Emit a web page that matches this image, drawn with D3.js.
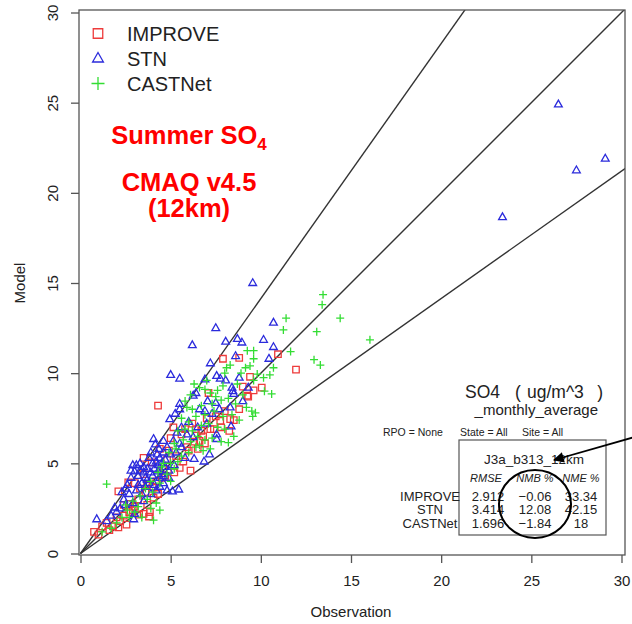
<!DOCTYPE html>
<html>
<head>
<meta charset="utf-8">
<script src="https://cdn.jsdelivr.net/npm/d3@7"></script>
<style>
  html, body { margin: 0; padding: 0; background: #fff; }
  svg text { font-family: "Liberation Sans", Arial, Helvetica, sans-serif; }
</style>
</head>
<body>
<svg id="chart" width="632" height="624"></svg>
<script>
// Observation vs model, summer SO4 monthly averages, by monitoring network
const improvePoints = [
  [4.3,8.2],[7.9,10.8],[8.8,10.85],[11.95,10.2],[10.95,11.05],[10.05,9.2],[9.4,9.8],[9.0,9.25],
  [9.6,9.05],[9.25,8.75],[9.3,8.7],[8.8,8.0],[7.1,8.9],[8.3,7.45],[8.25,6.8],[7.75,7.35],[6.2,7.2],
  [6.9,6.1],[6.6,6.25],[6.0,5.7],[6.1,4.6],[5.5,4.75],[5.15,7.0],[4.4,5.8],[3.95,5.05],[3.5,5.3],
  [4.7,4.3],[3.5,4.4],[2.65,3.95],[2.1,3.45],[2.75,2.75],[3.7,2.7],[3.5,2.2],[3.8,2.05],[3.25,2.15],
  [3.85,2.3],[2.1,1.45],[0.75,1.2],[1.45,1.7],[2.55,1.6],[4.05,3.1],[5.0,6.4],[5.6,6.6],[6.4,6.9],
  [7.0,7.5],[7.5,7.6],[6.7,6.8],[5.3,5.4],[4.8,5.2],[4.6,4.7],[5.9,5.9],[6.3,6.2],[7.2,6.9],[7.8,7.0],
  [8.0,7.9],[4.2,4.0],[4.0,3.7],[3.2,3.0],[2.9,2.4],[2.4,2.1],[1.8,1.5],[1.6,1.3],[2.2,1.8],[3.0,2.6],
  [3.6,3.4],[4.5,4.2],[5.2,4.5],[5.7,5.1],[6.5,5.8],[7.4,6.9],[1.2,1.5],[2.0,2.0],[3.3,3.6],[3.7,3.8],
  [4.3,3.3],[6.8,6.5],[8.5,7.4],[5.8,6.9],[4.9,5.7],[3.0,3.9],[2.4,2.7],[1.0,1.05],[2.7,2.3]
];
const stnPoints = [
  [26.5,24.9],[29.1,21.9],[27.5,21.25],[23.4,18.65],
  [9.55,15.0],[7.5,12.5],[6.2,11.55],[8.05,11.75],[8.7,11.9],[8.95,11.7],[10.7,12.8],[10.15,11.85],
  [10.7,11.45],[10.45,10.8],[8.6,10.95],[7.2,10.55],[5.0,9.9],[5.5,9.7],[7.55,9.85],[7.75,9.7],
  [8.05,9.6],[6.9,9.65],[8.8,9.75],[8.4,9.2],[8.45,9.0],[8.5,8.85],[9.3,9.2],[6.4,8.9],[6.25,8.75],
  [7.05,8.45],[7.5,8.35],[9.0,8.45],[6.6,8.0],[5.5,8.3],[5.5,8.0],[5.25,7.75],[4.95,7.45],[7.3,7.75],
  [8.3,8.1],[8.35,7.05],[7.55,6.6],[7.55,6.35],[7.15,5.5],[6.85,5.1],[6.3,5.25],[6.9,7.9],[7.7,8.0],
  [6.0,7.3],[6.5,7.0],[7.0,7.2],[4.05,6.35],[4.15,6.05],[4.6,6.25],[4.8,5.9],[5.15,6.25],[5.35,6.7],
  [5.6,7.0],[5.9,6.6],[6.25,6.45],[4.25,5.5],[4.4,5.3],[5.45,3.55],[5.1,3.45],[1.9,2.55],[2.0,2.3],
  [1.45,1.8],[0.9,1.9],[2.95,1.9],[2.9,4.9],[2.8,4.6],[3.0,4.55],[3.3,4.6],[3.5,4.8],[3.7,4.7],
  [3.9,4.5],[3.2,4.3],[3.6,4.2],[4.0,4.3],[4.3,4.55],[4.5,4.4],[4.2,5.1],[4.5,5.0],[4.7,4.8],
  [3.4,3.9],[3.8,3.9],[4.1,3.8],[4.4,3.7],[2.6,3.8],[2.7,3.3],[3.1,3.5],[3.4,3.3],[3.9,3.3],[4.2,3.5],
  [4.6,3.9],[4.9,4.2],[2.4,3.0],[2.5,2.7],[2.9,2.8],[3.0,2.2],[3.5,2.9],[4.9,4.6],[5.0,5.5],[4.6,5.6],
  [3.3,5.0],[3.1,4.9],[4.0,5.0],[3.8,5.3],[4.3,4.9],[3.6,3.7],[4.7,5.2],[5.3,5.6],[5.6,5.9],[5.8,5.3],
  [5.2,4.9],[5.5,6.1],[4.4,4.2],[3.7,4.1],[2.8,4.2],[2.3,3.4],[4.8,3.5],[2.2,2.5],[1.7,2.1],[2.5,3.6],
  [4.1,4.7],[3.5,4.5],[4.6,4.3],[3.2,3.8],[4.35,5.8],[3.9,5.6]
];
const castnetPoints = [
  [1.45,3.85],[4.05,1.85],[13.45,14.35],[13.4,13.8],[14.4,13.05],[16.05,11.85],[13.1,12.3],[11.4,13.05],
  [11.25,12.4],[12.95,10.75],[13.3,10.45],[11.65,11.2],[10.7,10.3],[10.6,8.85],[9.6,11.25],[9.6,10.8],
  [9.25,11.25],[9.15,10.3],[8.3,10.45],[9.8,9.95],[9.6,9.6],[10.15,9.75],[9.7,7.8],[9.55,7.6],[9.2,8.1],
  [9.5,7.9],[8.2,6.15],[7.6,9.05],[7.2,8.9],[6.9,9.1],[6.6,9.2],[7.9,9.3],[6.1,8.8],[5.8,8.45],[6.2,8.0],
  [6.7,8.2],[7.3,8.3],[7.8,8.5],[8.2,8.6],[8.6,8.3],[5.6,7.5],[6.0,7.3],[6.4,7.6],[6.9,7.7],[7.4,7.9],
  [7.9,7.6],[8.4,7.7],[8.8,7.4],[5.4,6.8],[5.8,6.9],[6.2,6.8],[6.7,7.1],[7.1,7.2],[7.6,7.0],[8.0,6.9],
  [8.5,6.5],[5.2,6.1],[5.7,6.3],[6.1,6.2],[6.5,6.5],[6.9,6.3],[7.3,6.4],[7.8,6.2],[4.9,5.6],[5.3,5.8],
  [5.6,5.4],[6.0,5.6],[6.4,5.9],[6.8,5.7],[4.6,5.0],[5.0,5.0],[5.4,5.1],[4.3,4.5],[4.8,4.4],[5.2,4.7],
  [3.9,4.0],[4.4,3.9],[3.6,3.6],[4.0,3.4],[3.3,3.2],[3.7,3.0],[2.9,2.9],[3.2,2.6],[2.6,2.4],[3.0,2.3],
  [2.3,2.0],[2.7,2.0],[2.0,1.7],[1.7,1.4],[3.9,2.5],[4.2,2.8],[3.4,2.0],[8.1,10.3],[8.9,10.0],[9.4,10.4],
  [9.0,8.8],[8.7,9.4],[10.2,9.0],[10.5,9.9],[7.0,9.6],[6.3,9.4],[5.9,8.1],[7.5,8.7],[8.0,10.0],[6.6,6.0],
  [4.5,4.8],[2.5,2.7],[1.2,1.2],[4.4,2.4],[5.0,4.0],[7.2,5.8]
];

const networks = ["IMPROVE", "STN", "CASTNet"];
const xTicks = [0, 5, 10, 15, 20, 25, 30];
const yTicks = [0, 5, 10, 15, 20, 25, 30];
// reference lines through the origin: upper, 1:1, lower
const refSlopes = [1.414, 1, 0.707];

// statistics table
const statCols = ["RMSE", "NMB %", "NME %"];
const rmse = ["2.912", "3.414", "1.696"];
const nmb = ["\u22120.06", "12.08", "\u22121.84"];
const nme = ["33.34", "42.15", "18"];

const svg = d3.select("#chart");
const font = '"Liberation Sans", Arial, Helvetica, sans-serif';
const colors = { IMPROVE: "#ee3b3b", STN: "#2b2bdc", CASTNet: "#33dd33" };

svg.append("rect").attr("width", 632).attr("height", 624).attr("fill", "#fff");

const x = d3.scaleLinear().domain([0, 30]).range([80.5, 621.5]);
const y = d3.scaleLinear().domain([0, 30]).range([553.5, 12.5]);
const box = { left: 79, right: 625, top: 10, bottom: 555 };

svg.append("clipPath").attr("id", "plotClip")
  .append("rect").attr("x", box.left).attr("y", box.top)
  .attr("width", box.right - box.left).attr("height", box.bottom - box.top);

// reference lines
const lineG = svg.append("g").attr("clip-path", "url(#plotClip)");
refSlopes.forEach(s => {
  lineG.append("line")
    .attr("x1", x(0)).attr("y1", y(0))
    .attr("x2", x(40)).attr("y2", y(40 * s))
    .attr("stroke", "#333").attr("stroke-width", 1.4);
});

// marker shapes
const square = d3.symbol().type(d3.symbolSquare).size(42);
function tri(r) { return `M0,${-r}L${r * 0.9},${r * 0.58}L${-r * 0.9},${r * 0.58}Z`; }
function plus(r) { return `M${-r},0H${r}M0,${-r}V${r}`; }

function drawPoints(data, kind) {
  const g = svg.append("g").attr("clip-path", "url(#plotClip)");
  const sel = g.selectAll("path").data(data).join("path")
    .attr("transform", d => `translate(${x(d[0])},${y(d[1])})`)
    .attr("fill", "none").attr("stroke", colors[kind]).attr("stroke-width", 1.3);
  if (kind === "IMPROVE") sel.attr("d", square());
  else if (kind === "STN") sel.attr("d", tri(4.3));
  else sel.attr("d", plus(4));
}
drawPoints(improvePoints, "IMPROVE");
drawPoints(stnPoints, "STN");
drawPoints(castnetPoints, "CASTNet");

// plot frame
svg.append("rect")
  .attr("x", box.left).attr("y", box.top)
  .attr("width", box.right - box.left).attr("height", box.bottom - box.top)
  .attr("fill", "none").attr("stroke", "#555").attr("stroke-width", 1.3);

// axes
const xAxis = svg.append("g").attr("transform", `translate(0,${box.bottom})`)
  .call(d3.axisBottom(x).tickValues(xTicks).tickSize(8).tickPadding(12).tickFormat(d3.format("d")));
xAxis.select(".domain").remove();
xAxis.selectAll("line").attr("stroke", "#555").attr("stroke-width", 1.3);
xAxis.selectAll("text").attr("font-size", 15).attr("font-family", font).attr("fill", "#222");

const yAxis = svg.append("g").attr("transform", `translate(${box.left},0)`)
  .call(d3.axisLeft(y).tickValues(yTicks).tickSize(8).tickFormat(d3.format("d")));
yAxis.select(".domain").remove();
yAxis.selectAll("line").attr("stroke", "#555").attr("stroke-width", 1.3);
yAxis.selectAll("text")
  .attr("transform", "rotate(-90)")
  .attr("x", 0).attr("y", -21).attr("dy", null)
  .attr("text-anchor", "middle")
  .attr("font-size", 15).attr("font-family", font).attr("fill", "#222");

svg.append("text").attr("x", (x(0) + x(30)) / 2).attr("y", 617)
  .attr("text-anchor", "middle").attr("font-size", 15).attr("fill", "#222")
  .text("Observation");
svg.append("text").attr("transform", `translate(25,${(y(0) + y(30)) / 2}) rotate(-90)`)
  .attr("text-anchor", "middle").attr("font-size", 15).attr("fill", "#222")
  .text("Model");

// legend
const legend = svg.append("g");
networks.forEach((n, i) => {
  const cy = 33.5 + i * 25;
  const mk = legend.append("path")
    .attr("transform", `translate(98,${cy})`)
    .attr("fill", "none").attr("stroke", colors[n]).attr("stroke-width", 1.3);
  if (n === "IMPROVE") mk.attr("d", d3.symbol().type(d3.symbolSquare).size(90)());
  else if (n === "STN") mk.attr("d", tri(6));
  else mk.attr("d", plus(6.5));
  legend.append("text").attr("x", 127).attr("y", cy + 7.3)
    .attr("font-size", 20).attr("fill", "#222").text(n);
});

// red title block
const title = svg.append("g").attr("fill", "#ff0000").attr("font-weight", "bold")
  .attr("text-anchor", "middle").attr("font-size", 25.5);
const t1 = title.append("text").attr("x", 189).attr("y", 143.5);
t1.append("tspan").text("Summer SO");
t1.append("tspan").attr("font-size", 17).attr("dy", 6).text("4");
title.append("text").attr("x", 189).attr("y", 190.5).text("CMAQ v4.5");
title.append("text").attr("x", 189).attr("y", 216.5).text("(12km)");

// species / run description
const unitG = svg.append("g").attr("font-size", 17.5).attr("fill", "#222");
unitG.append("text").attr("x", 465).attr("y", 398).text("SO4");
unitG.append("text").attr("x", 515).attr("y", 398).text("(");
unitG.append("text").attr("x", 527).attr("y", 398).text("ug/m^3");
unitG.append("text").attr("x", 603).attr("y", 398).attr("text-anchor", "end").text(")");
svg.append("text").attr("x", 598).attr("y", 414.5).attr("font-size", 15).attr("fill", "#222")
  .attr("text-anchor", "end").text("_monthly_average");
[["RPO = None", 383], ["State = All", 460], ["Site = All", 522]].forEach(([t, px]) => {
  svg.append("text").attr("x", px).attr("y", 435.5).attr("font-size", 10.5).attr("fill", "#222").text(t);
});

// statistics table
svg.append("rect").attr("x", 459).attr("y", 440).attr("width", 147).attr("height", 95)
  .attr("fill", "none").attr("stroke", "#555").attr("stroke-width", 1.2);
svg.append("text").attr("x", 534).attr("y", 464).attr("text-anchor", "middle")
  .attr("font-size", 13.5).attr("fill", "#222").text("J3a_b313_12km");
const colX = [486, 535, 581];
statCols.forEach((c, i) => {
  svg.append("text").attr("x", colX[i]).attr("y", 482).attr("text-anchor", "middle")
    .attr("font-size", 11).attr("font-style", "italic").attr("fill", "#222").text(c);
});
networks.forEach((n, r) => {
  const by = 500.5 + r * 13.5;
  svg.append("text").attr("x", 430).attr("y", by).attr("text-anchor", "middle")
    .attr("font-size", 13).attr("fill", "#222").text(n);
  [rmse[r], nmb[r], nme[r]].forEach((v, i) => {
    svg.append("text").attr("x", colX[i] + (i === 0 ? 2 : 0)).attr("y", by).attr("text-anchor", "middle")
      .attr("font-size", 13).attr("fill", "#222").text(v);
  });
});

// highlight around the NMB column
svg.append("ellipse").attr("cx", 535).attr("cy", 504).attr("rx", 36).attr("ry", 34)
  .attr("fill", "none").attr("stroke", "#000").attr("stroke-width", 2);

svg.append("defs").append("marker").attr("id", "head")
  .attr("viewBox", "0 0 10 10").attr("refX", 9).attr("refY", 5)
  .attr("markerWidth", 8).attr("markerHeight", 6).attr("markerUnits", "strokeWidth")
  .attr("orient", "auto")
  .append("path").attr("d", "M0,0L10,5L0,10Z").attr("fill", "#000");
svg.append("line").attr("x1", 633).attr("y1", 437.5).attr("x2", 554).attr("y2", 460)
  .attr("stroke", "#000").attr("stroke-width", 1.8).attr("marker-end", "url(#head)");
</script>
</body>
</html>
